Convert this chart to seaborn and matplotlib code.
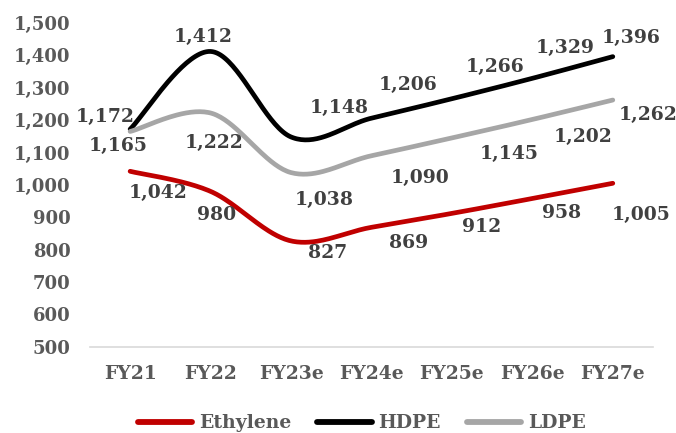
import numpy as np
import pandas as pd
import matplotlib
matplotlib.use("Agg")
import matplotlib.pyplot as plt
import seaborn as sns

# ---- data ----
years = ["FY21", "FY22", "FY23e", "FY24e", "FY25e", "FY26e", "FY27e"]
ethylene = [1042, 980, 827, 869, 912, 958, 1005]
hdpe = [1172, 1412, 1148, 1206, 1266, 1329, 1396]
ldpe = [1165, 1222, 1038, 1090, 1145, 1202, 1262]
series_names = ["Ethylene", "HDPE", "LDPE"]
y_ticks = list(range(500, 1501, 100))

colors = {"Ethylene": "#C00000", "HDPE": "#000000", "LDPE": "#A6A6A6"}

# label offsets in pixels (dx, dy upward positive)
label_offsets = {
    "HDPE": [(-25, 12), (-7, 14), (48, 29), (37, 33), (43, 32), (33, 30), (18, 19)],
    "LDPE": [(-12, -15), (3, -30), (33, -27), (49, -22), (57, -16), (51, -18), (35, -15)],
    "Ethylene": [(28, -22), (6, -24), (37, -12), (37, -16), (30, -14), (29, -15), (28, -32)],
}

sns.set_theme(style="white")
plt.rcParams["font.family"] = ["DejaVu Serif"]
plt.rcParams["font.weight"] = "bold"


def smooth(xs, ys, n=40):
    """Bezier smoothing through every point (control points from neighbours)."""
    pts = np.column_stack([xs, ys]).astype(float)
    ext = np.vstack([pts[0], pts, pts[-1]])
    out = []
    for i in range(len(pts) - 1):
        p0, p3 = ext[i + 1], ext[i + 2]
        c1 = p0 + (ext[i + 2] - ext[i]) / 6.0
        c2 = p3 - (ext[i + 3] - ext[i + 1]) / 6.0
        t = np.linspace(0, 1, n, endpoint=(i == len(pts) - 2))[:, None]
        seg = ((1 - t) ** 3) * p0 + 3 * ((1 - t) ** 2) * t * c1 + 3 * (1 - t) * t ** 2 * c2 + t ** 3 * p3
        out.append(seg)
    return np.vstack(out)


values = {"Ethylene": ethylene, "HDPE": hdpe, "LDPE": ldpe}
xpos = np.arange(len(years))

frames = []
for name in series_names:
    curve = smooth(xpos, values[name])
    frames.append(pd.DataFrame({"x": curve[:, 0], "value": curve[:, 1], "series": name}))
smooth_df = pd.concat(frames, ignore_index=True)

fig = plt.figure(figsize=(6.76, 4.33), dpi=100)
ax = fig.add_axes([0.133, 0.199, 0.833, 0.748])

sns.lineplot(data=smooth_df, x="x", y="value", hue="series", hue_order=series_names,
             palette=colors, linewidth=3.4, sort=False, estimator=None, ax=ax,
             legend=True)
for line in ax.get_lines():
    line.set_solid_capstyle("round")

ax.set_xlim(-0.5, len(years) - 0.5)
ax.set_ylim(500, 1500)
ax.set_xticks(xpos)
ax.set_xticklabels(years)
ax.set_yticks(y_ticks)
ax.set_yticklabels([f"{v:,}" for v in y_ticks])
ax.set_xlabel("")
ax.set_ylabel("")

for s in ["top", "right", "left"]:
    ax.spines[s].set_visible(False)
ax.spines["bottom"].set_color("#D9D9D9")
ax.spines["bottom"].set_linewidth(1.2)
ax.grid(False)
ax.tick_params(axis="y", length=0, pad=14, labelsize=13, labelcolor="#595959")
ax.tick_params(axis="x", length=0, pad=13, labelsize=13.5, labelcolor="#595959")
for lab in ax.get_xticklabels() + ax.get_yticklabels():
    lab.set_fontweight("bold")

# data labels
for name in series_names:
    for i, v in enumerate(values[name]):
        dx, dy = label_offsets[name][i]
        ax.annotate(f"{v:,}", xy=(xpos[i], v), xytext=(dx * 0.72, dy * 0.72),
                    textcoords="offset points", ha="center", va="center",
                    fontsize=13.5, fontweight="bold", color="#404040")

handles, labels = ax.get_legend_handles_labels()
ax.get_legend().remove()
leg = fig.legend(handles, labels, loc="center", bbox_to_anchor=(0.535, 0.022),
                 ncol=3, frameon=False, handlelength=2.9, handletextpad=0.35,
                 columnspacing=1.4, prop={"size": 13.5, "weight": "bold"})
for t in leg.get_texts():
    t.set_color("#595959")
for h in leg.legend_handles:
    h.set_linewidth(4.2)
    h.set_solid_capstyle("round")

fig.savefig("out.png", dpi=100)
